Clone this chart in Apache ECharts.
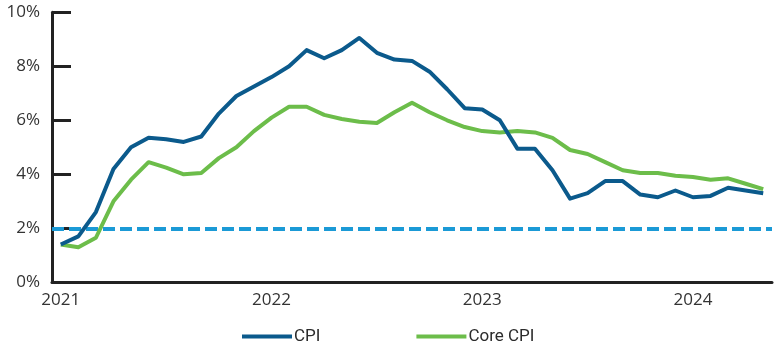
<!DOCTYPE html>
<html>
<head>
<meta charset="utf-8">
<script src="https://cdn.jsdelivr.net/npm/echarts@6/dist/echarts.min.js"></script>
<style>
html,body{margin:0;padding:0;background:#fff;}
#chart{width:779px;height:358px;}
</style>
</head>
<body>
<div id="chart"></div>
<script>
// Monthly data, Jan 2021 - May 2024
const months = [
  "2021-01","2021-02","2021-03","2021-04","2021-05","2021-06","2021-07","2021-08","2021-09","2021-10","2021-11","2021-12",
  "2022-01","2022-02","2022-03","2022-04","2022-05","2022-06","2022-07","2022-08","2022-09","2022-10","2022-11","2022-12",
  "2023-01","2023-02","2023-03","2023-04","2023-05","2023-06","2023-07","2023-08","2023-09","2023-10","2023-11","2023-12",
  "2024-01","2024-02","2024-03","2024-04","2024-05"
];
const cpi = [
  1.4, 1.7, 2.6, 4.2, 5.0, 5.35, 5.3, 5.2, 5.4, 6.25, 6.9, 7.25,
  7.6, 8.0, 8.6, 8.3, 8.6, 9.05, 8.5, 8.25, 8.2, 7.8, 7.15, 6.45,
  6.4, 6.0, 4.95, 4.95, 4.15, 3.1, 3.3, 3.75, 3.75, 3.25, 3.15, 3.4,
  3.15, 3.2, 3.5, 3.4, 3.3
];
const coreCpi = [
  1.4, 1.3, 1.65, 3.0, 3.8, 4.45, 4.25, 4.0, 4.05, 4.6, 5.0, 5.6,
  6.1, 6.5, 6.5, 6.2, 6.05, 5.95, 5.9, 6.3, 6.65, 6.3, 6.0, 5.75,
  5.6, 5.55, 5.6, 5.55, 5.35, 4.9, 4.75, 4.45, 4.15, 4.05, 4.05, 3.95,
  3.9, 3.8, 3.85, 3.65, 3.45
];
const target = 2;
const yTicks = [0, 2, 4, 6, 8, 10];
const seriesNames = ["CPI", "Core CPI"];

const chart = echarts.init(document.getElementById('chart'), null, {renderer: 'canvas'});
const FONT = "'Open Sans', sans-serif";
chart.setOption({
  animation: false,
  backgroundColor: '#ffffff',
  grid: {left: 52, right: 7, top: 12.3, bottom: 75.7, containLabel: false},
  legend: {
    data: seriesNames,
    bottom: 8,
    left: 237,
    itemWidth: 50,
    itemHeight: 4,
    itemGap: 96,
    icon: 'rect',
    textStyle: {fontFamily: "Roboto, sans-serif", fontSize: 17, color: '#2b2b2b', padding: [0, 0, 0, -3]}
  },
  xAxis: {
    type: 'category',
    data: months,
    boundaryGap: true,
    axisLine: {lineStyle: {color: '#222', width: 3}},
    axisTick: {show: false},
    axisLabel: {
      interval: 0,
      formatter: function (v) { return v.endsWith('-01') ? v.slice(0, 4) : ''; },
      fontFamily: FONT, fontSize: 17, color: '#333', margin: 9
    },
    splitLine: {show: false}
  },
  yAxis: {
    type: 'value',
    min: yTicks[0],
    max: yTicks[yTicks.length - 1],
    interval: 2,
    axisLine: {show: true, lineStyle: {color: '#222', width: 3}},
    axisTick: {show: true, inside: true, length: 19, lineStyle: {color: '#222', width: 3}},
    axisLabel: {
      formatter: '{value}%',
      fontFamily: FONT, fontSize: 17, color: '#333', margin: 12,
      padding: [8, 0, 0, 0]
    },
    splitLine: {show: false}
  },
  series: [
    {
      name: seriesNames[0],
      type: 'line',
      data: cpi,
      symbol: 'none',
      z: 3,
      lineStyle: {color: '#0b5a8c', width: 4, join: 'round'},
      itemStyle: {color: '#0b5a8c'},
      markLine: {
        silent: true,
        symbol: 'none',
        label: {show: false},
        lineStyle: {color: '#1b9ad6', width: 4, type: [12, 5]},
        data: [{yAxis: target}],
        z: 1
      }
    },
    {
      name: seriesNames[1],
      type: 'line',
      data: coreCpi,
      symbol: 'none',
      z: 2,
      lineStyle: {color: '#6cbd4a', width: 4, join: 'round'},
      itemStyle: {color: '#6cbd4a'}
    }
  ]
});
</script>
</body>
</html>
